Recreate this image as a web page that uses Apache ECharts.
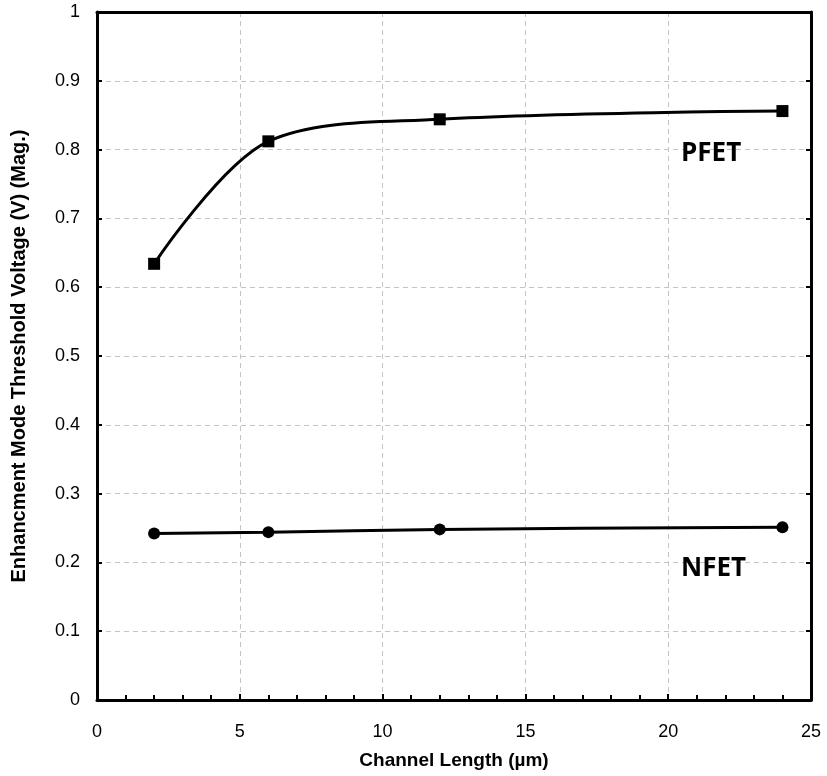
<!DOCTYPE html>
<html>
<head>
<meta charset="utf-8">
<script src="https://cdn.jsdelivr.net/npm/echarts@6/dist/echarts.min.js"></script>
<style>
  html, body { margin: 0; padding: 0; background: #ffffff; }
  #chart { width: 827px; height: 776px; }
</style>
</head>
<body>
<div id="chart"></div>
<script>
// Channel lengths (µm) at which the devices were measured
const channelLength = [2, 6, 12, 24];
// Enhancement-mode threshold voltage magnitude (V)
const pfetVt = [0.634, 0.812, 0.844, 0.856];
const nfetVt = [0.242, 0.244, 0.248, 0.251];
// Curve labels
const seriesNames = ['PFET', 'NFET'];

const pair = (xs, ys) => xs.map((x, i) => [x, ys[i]]);

const chart = echarts.init(document.getElementById('chart'), null, { renderer: 'canvas' });

const tickFont = { fontFamily: 'Liberation Sans, Arial, sans-serif', fontSize: 18, color: '#000' };
const xTitleFont = { fontFamily: 'Liberation Sans, Arial, sans-serif', fontSize: 19, fontWeight: 'bold', color: '#000' };
const yTitleFont = { fontFamily: 'Liberation Sans, Arial, sans-serif', fontSize: 20, fontWeight: 'bold', color: '#000' };
const gridDash = { color: '#c4c4c4', width: 1, type: [5, 4] };
const frame = { show: true, onZero: false, lineStyle: { color: '#000', width: 3 } };

chart.setOption({
  animation: false,
  backgroundColor: '#ffffff',
  grid: { left: 97, right: 16, top: 12, bottom: 76, containLabel: false },
  xAxis: [
    {
      type: 'value', min: 0, max: 25, interval: 5, position: 'bottom',
      name: 'Channel Length (µm)', nameLocation: 'middle', nameGap: 51,
      nameTextStyle: xTitleFont,
      axisLine: frame,
      axisTick: { show: true, inside: true, length: 6, lineStyle: { color: '#000', width: 2 } },
      minorTick: { show: true, splitNumber: 5, length: 5, lineStyle: { color: '#000', width: 2 } },
      axisLabel: Object.assign({ margin: 23 }, tickFont),
      splitLine: { show: true, lineStyle: gridDash }
    },
    {
      type: 'value', min: 0, max: 25, interval: 5, position: 'top',
      axisLine: frame, axisTick: { show: false }, axisLabel: { show: false }, splitLine: { show: false }
    }
  ],
  yAxis: [
    {
      type: 'value', min: 0, max: 1, interval: 0.1, position: 'left',
      name: 'Enhancment Mode Threshold Voltage (V) (Mag.)', nameLocation: 'middle', nameGap: 68,
      nameTextStyle: yTitleFont,
      axisLine: frame,
      axisTick: { show: true, inside: true, length: 5, lineStyle: { color: '#000', width: 2 } },
      axisLabel: Object.assign({ margin: 17, formatter: v => String(Math.round(v * 10) / 10) }, tickFont),
      splitLine: { show: true, lineStyle: gridDash }
    },
    {
      type: 'value', min: 0, max: 1, interval: 0.1, position: 'right',
      axisLine: frame,
      axisTick: { show: true, inside: true, length: 5, lineStyle: { color: '#000', width: 2 } },
      axisLabel: { show: false }, splitLine: { show: false }
    }
  ],
  series: [
    {
      name: seriesNames[0], type: 'line', xAxisIndex: 0, yAxisIndex: 0,
      data: pair(channelLength, pfetVt),
      smooth: 0.33,
      symbol: 'rect', symbolSize: 12,
      lineStyle: { color: '#000', width: 3 },
      itemStyle: { color: '#000' },
      z: 5
    },
    {
      name: seriesNames[1], type: 'line', xAxisIndex: 0, yAxisIndex: 0,
      data: pair(channelLength, nfetVt),
      smooth: 0.33,
      symbol: 'circle', symbolSize: 12,
      lineStyle: { color: '#000', width: 3 },
      itemStyle: { color: '#000' },
      z: 5
    }
  ],
  graphic: [
    {
      type: 'text', left: 681, top: 141, z: 10,
      style: { text: seriesNames[0], font: 'bold 26px "Open Sans", sans-serif', fill: '#000' }
    },
    {
      type: 'text', left: 681, top: 556, z: 10,
      style: { text: seriesNames[1], font: 'bold 26px "Open Sans", sans-serif', fill: '#000' }
    }
  ]
});
</script>
</body>
</html>
